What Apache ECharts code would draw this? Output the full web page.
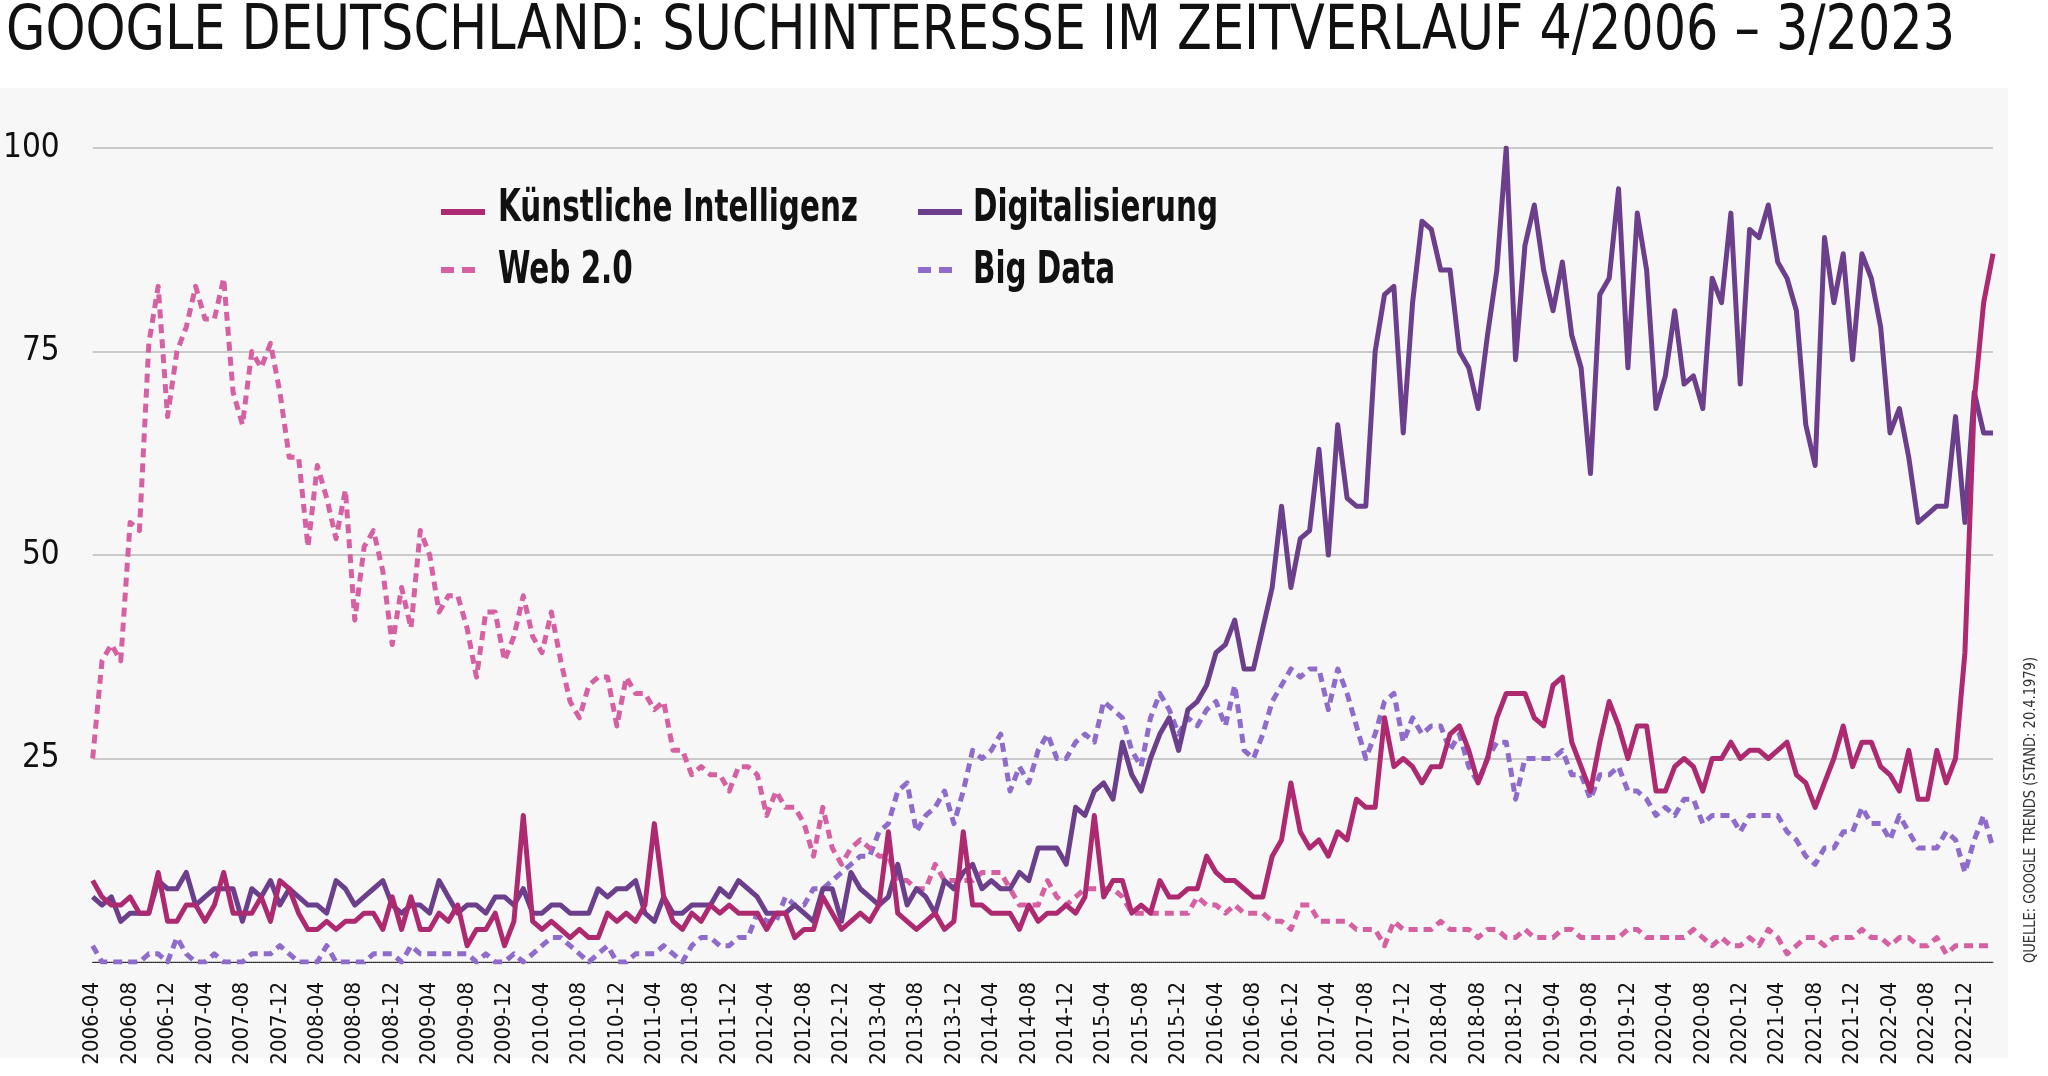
<!DOCTYPE html>
<html>
<head>
<meta charset="utf-8">
<script src="https://cdn.jsdelivr.net/npm/echarts@6/dist/echarts.min.js"></script>
<style>
  html, body { margin: 0; padding: 0; background: #ffffff; }
  #chart { width: 2048px; height: 1076px; }
</style>
</head>
<body>
<div id="chart"></div>
<script>
// ---- Data (Google Trends, monthly, 2006-04 .. 2023-03) ----
const startYear = 2006, startMonth = 4, monthCount = 204;
const categories = [];
for (let k = 0; k < monthCount; k++) {
  const m = startMonth - 1 + k;
  const y = startYear + Math.floor(m / 12);
  const mm = (m % 12) + 1;
  categories.push(y + '-' + (mm < 10 ? '0' + mm : '' + mm));
}

const seriesNames = ['Künstliche Intelligenz', 'Digitalisierung', 'Web 2.0', 'Big Data'];

const kuenstlicheIntelligenz = [
  10, 8, 7, 7, 8, 6, 6, 11, 5, 5, 7, 7, 5, 7, 11, 6, 6, 6, 8, 5, 10, 9, 6, 4, 4, 5, 4, 5, 5, 6, 6, 4, 8,
  4, 8, 4, 4, 6, 5, 7, 2, 4, 4, 6, 2, 5, 18, 5, 4, 5, 4, 3, 4, 3, 3, 6, 5, 6, 5, 7, 17, 8, 5, 4, 6, 5,
  7, 6, 7, 6, 6, 6, 4, 6, 6, 3, 4, 4, 8, 6, 4, 5, 6, 5, 7, 16, 6, 5, 4, 5, 6, 4, 5, 16, 7, 7, 6, 6, 6,
  4, 7, 5, 6, 6, 7, 6, 8, 18, 8, 10, 10, 6, 7, 6, 10, 8, 8, 9, 9, 13, 11, 10, 10, 9, 8, 8, 13, 15, 22, 16, 14, 15,
  13, 16, 15, 20, 19, 19, 30, 24, 25, 24, 22, 24, 24, 28, 29, 26, 22, 25, 30, 33, 33, 33, 30, 29, 34, 35, 27, 24, 21, 27, 32, 29, 25,
  29, 29, 21, 21, 24, 25, 24, 21, 25, 25, 27, 25, 26, 26, 25, 26, 27, 23, 22, 19, 22, 25, 29, 24, 27, 27, 24, 23, 21, 26, 20, 20, 26, 22, 25, 38, 69, 81, 87
];

const digitalisierung = [
  8, 7, 8, 5, 6, 6, 6, 10, 9, 9, 11, 7, 8, 9, 9, 9, 5, 9, 8, 10, 7, 9, 8, 7, 7, 6, 10, 9, 7, 8, 9, 10, 7,
  6, 7, 7, 6, 10, 8, 6, 7, 7, 6, 8, 8, 7, 9, 6, 6, 7, 7, 6, 6, 6, 9, 8, 9, 9, 10, 6, 5, 8, 6, 6, 7, 7,
  7, 9, 8, 10, 9, 8, 6, 6, 6, 7, 6, 5, 9, 9, 5, 11, 9, 8, 7, 8, 12, 7, 9, 8, 6, 10, 9, 11, 12, 9, 10, 9, 9,
  11, 10, 14, 14, 14, 12, 19, 18, 21, 22, 20, 27, 23, 21, 25, 28, 30, 26, 31, 32, 34, 38, 39, 42, 36, 36, 41, 46, 56, 46, 52, 53, 63,
  50, 66, 57, 56, 56, 75, 82, 83, 65, 81, 91, 90, 85, 85, 75, 73, 68, 77, 85, 100, 74, 88, 93, 85, 80, 86, 77, 73, 60, 82, 84, 95, 73,
  92, 85, 68, 72, 80, 71, 72, 68, 84, 81, 92, 71, 90, 89, 93, 86, 84, 80, 66, 61, 89, 81, 87, 74, 87, 84, 78, 65, 68, 62, 54, 55, 56, 56, 67, 54, 70, 65, 65
];

const web20 = [
  25, 37, 39, 37, 54, 53, 76, 83, 67, 75, 78, 83, 79, 79, 84, 70, 66, 75, 73, 76, 70, 62, 62, 51, 61, 57, 52, 58, 42, 51, 53, 48, 39,
  46, 41, 53, 50, 43, 45, 45, 41, 35, 43, 43, 37, 40, 45, 40, 38, 43, 37, 32, 30, 34, 35, 35, 29, 35, 33, 33, 31, 32, 26, 26, 23, 24,
  23, 23, 21, 24, 24, 23, 18, 21, 19, 19, 17, 13, 19, 14, 12, 14, 15, 14, 13, 13, 10, 10, 9, 9, 12, 10, 10, 10, 10, 11, 11, 11, 9,
  7, 7, 7, 10, 8, 7, 8, 9, 9, 9, 9, 8, 6, 6, 6, 6, 6, 6, 6, 8, 7, 7, 6, 7, 6, 6, 6, 5, 5, 4, 7, 7, 5,
  5, 5, 5, 4, 4, 4, 2, 5, 4, 4, 4, 4, 5, 4, 4, 4, 3, 4, 4, 3, 3, 4, 3, 3, 3, 4, 4, 3, 3, 3, 3, 3, 4,
  4, 3, 3, 3, 3, 3, 4, 3, 2, 3, 2, 2, 3, 2, 4, 3, 1, 2, 3, 3, 2, 3, 3, 3, 4, 3, 3, 2, 3, 3, 2, 2, 3, 1, 2, 2, 2, 2, 2
];

const bigData = [
  2, 0, 0, 0, 0, 0, 1, 1, 0, 3, 1, 0, 0, 1, 0, 0, 0, 1, 1, 1, 2, 1, 0, 0, 0, 2, 0, 0, 0, 0, 1, 1, 1,
  0, 2, 1, 1, 1, 1, 1, 1, 0, 1, 0, 0, 1, 0, 1, 2, 3, 3, 2, 1, 0, 1, 2, 0, 0, 1, 1, 1, 2, 1, 0, 2, 3,
  3, 2, 2, 3, 3, 6, 5, 5, 8, 7, 7, 9, 9, 10, 11, 12, 13, 13, 16, 17, 21, 22, 16, 18, 19, 21, 17, 21, 26, 25, 26, 28, 21,
  24, 22, 26, 28, 25, 25, 27, 28, 27, 32, 31, 30, 26, 24, 30, 33, 31, 28, 30, 29, 31, 32, 29, 34, 26, 25, 28, 32, 34, 36, 35, 36, 36,
  31, 36, 33, 29, 25, 28, 32, 33, 27, 30, 28, 29, 29, 26, 28, 24, 22, 25, 27, 27, 20, 25, 25, 25, 25, 26, 23, 23, 20, 23, 23, 24, 21,
  21, 20, 18, 19, 18, 20, 20, 17, 18, 18, 18, 16, 18, 18, 18, 18, 16, 15, 13, 12, 14, 14, 16, 16, 19, 17, 17, 15, 18, 16, 14, 14, 14, 16, 15, 11, 15, 18, 14
];

const yTicks = [0, 25, 50, 75, 100];
const titleText = 'GOOGLE DEUTSCHLAND: SUCHINTERESSE IM ZEITVERLAUF 4/2006 \u2013 3/2023';
const sourceText = 'QUELLE: GOOGLE TRENDS (STAND: 20.4.1979)';

// ---- Styling ----
const FONT = '"DejaVu Sans Condensed", "Liberation Sans Narrow", sans-serif';
const colors = { ki: '#ad2a70', digi: '#6c3f8c', web: '#d560a2', big: '#8d6ccb' };

// measure helper, to squeeze text to the condensed width of the original
const measureCtx = document.createElement('canvas').getContext('2d');
function textWidth(text, size, weight) {
  measureCtx.font = (weight || 'normal') + ' ' + size + 'px ' + FONT;
  return measureCtx.measureText(text).width;
}
const titleSize = 62;
const titleScale = 1949 / textWidth(titleText, titleSize);
const sourceSize = 15;
const sourceScale = 306 / textWidth(sourceText, sourceSize);
const legendSize = 44;
const legendScale = 360 / textWidth(seriesNames[0], legendSize, 'bold');

const chart = echarts.init(document.getElementById('chart'), null, { renderer: 'canvas' });

function lineSeries(name, data, color, dashed, z) {
  return {
    name: name,
    type: 'line',
    data: data,
    symbol: 'none',
    z: z,
    lineStyle: { color: color, width: 5, type: dashed ? [9, 6] : 'solid', cap: 'butt', join: 'round' },
    itemStyle: { color: color },
    emphasis: { disabled: true }
  };
}

function legendLabel(text, x, y) {
  return {
    type: 'text', silent: true, x: x, y: y, scaleX: legendScale,
    style: { text: text, fontFamily: FONT, fontWeight: 'bold', fontSize: legendSize, fill: '#111', verticalAlign: 'middle', align: 'left' }
  };
}

const legendCommon = {
  orient: 'vertical', top: 199, itemWidth: 44, itemHeight: 20, itemGap: 42,
  selectedMode: false, formatter: function () { return ''; },
  textStyle: { fontSize: 12, lineHeight: 20, padding: 0 },
  itemStyle: { opacity: 0 }
};
const dashedIcon = { type: [13, 8, 13, 40], width: 6 };
const solidIcon = { width: 6 };

const option = {
  animation: false,
  backgroundColor: '#ffffff',
  grid: { left: 87, right: 55, top: 148, bottom: 114, containLabel: false },
  graphic: [
    { type: 'rect', silent: true, z: -100, shape: { x: 0, y: 88, width: 2008, height: 970 }, style: { fill: '#f7f7f7' } },
    { type: 'text', silent: true, x: 6, y: 2, scaleX: titleScale, style: { text: titleText, fontFamily: FONT, fontSize: titleSize, fill: '#111', verticalAlign: 'top', align: 'left' } },
    { type: 'text', silent: true, x: 2031, y: 963, rotation: Math.PI / 2, scaleX: sourceScale, style: { text: sourceText, fontFamily: FONT, fontSize: sourceSize, fill: '#333', verticalAlign: 'middle', align: 'left' } },
    legendLabel(seriesNames[0], 498, 210),
    legendLabel(seriesNames[2], 498, 272),
    legendLabel(seriesNames[1], 973, 210),
    legendLabel(seriesNames[3], 973, 272)
  ],
  legend: [
    Object.assign({}, legendCommon, { left: 433, data: [
      { name: seriesNames[0], lineStyle: solidIcon },
      { name: seriesNames[2], lineStyle: dashedIcon }
    ] }),
    Object.assign({}, legendCommon, { left: 910, data: [
      { name: seriesNames[1], lineStyle: solidIcon },
      { name: seriesNames[3], lineStyle: dashedIcon }
    ] })
  ],
  xAxis: {
    type: 'category',
    data: categories,
    boundaryGap: false,
    axisLine: { show: true, lineStyle: { color: '#222', width: 1, type: 'dotted' } },
    axisTick: { show: false },
    splitLine: { show: false },
    axisLabel: { interval: 3, rotate: 90, margin: 20, fontFamily: FONT, fontSize: 22, color: '#111' }
  },
  yAxis: {
    type: 'value',
    min: yTicks[0], max: yTicks[yTicks.length - 1], interval: 25,
    axisLine: { show: false },
    axisTick: { show: false },
    splitLine: { show: true, lineStyle: { color: '#cacaca', width: 2 } },
    axisLabel: {
      margin: 33, align: 'right', fontFamily: FONT, fontSize: 33, color: '#111',
      formatter: function (v) { return v === 0 ? '' : String(v); }
    }
  },
  series: [
    lineSeries(seriesNames[3], bigData, colors.big, true, 2),
    lineSeries(seriesNames[2], web20, colors.web, true, 3),
    lineSeries(seriesNames[1], digitalisierung, colors.digi, false, 4),
    lineSeries(seriesNames[0], kuenstlicheIntelligenz, colors.ki, false, 5)
  ]
};

chart.setOption(option);
</script>
</body>
</html>
